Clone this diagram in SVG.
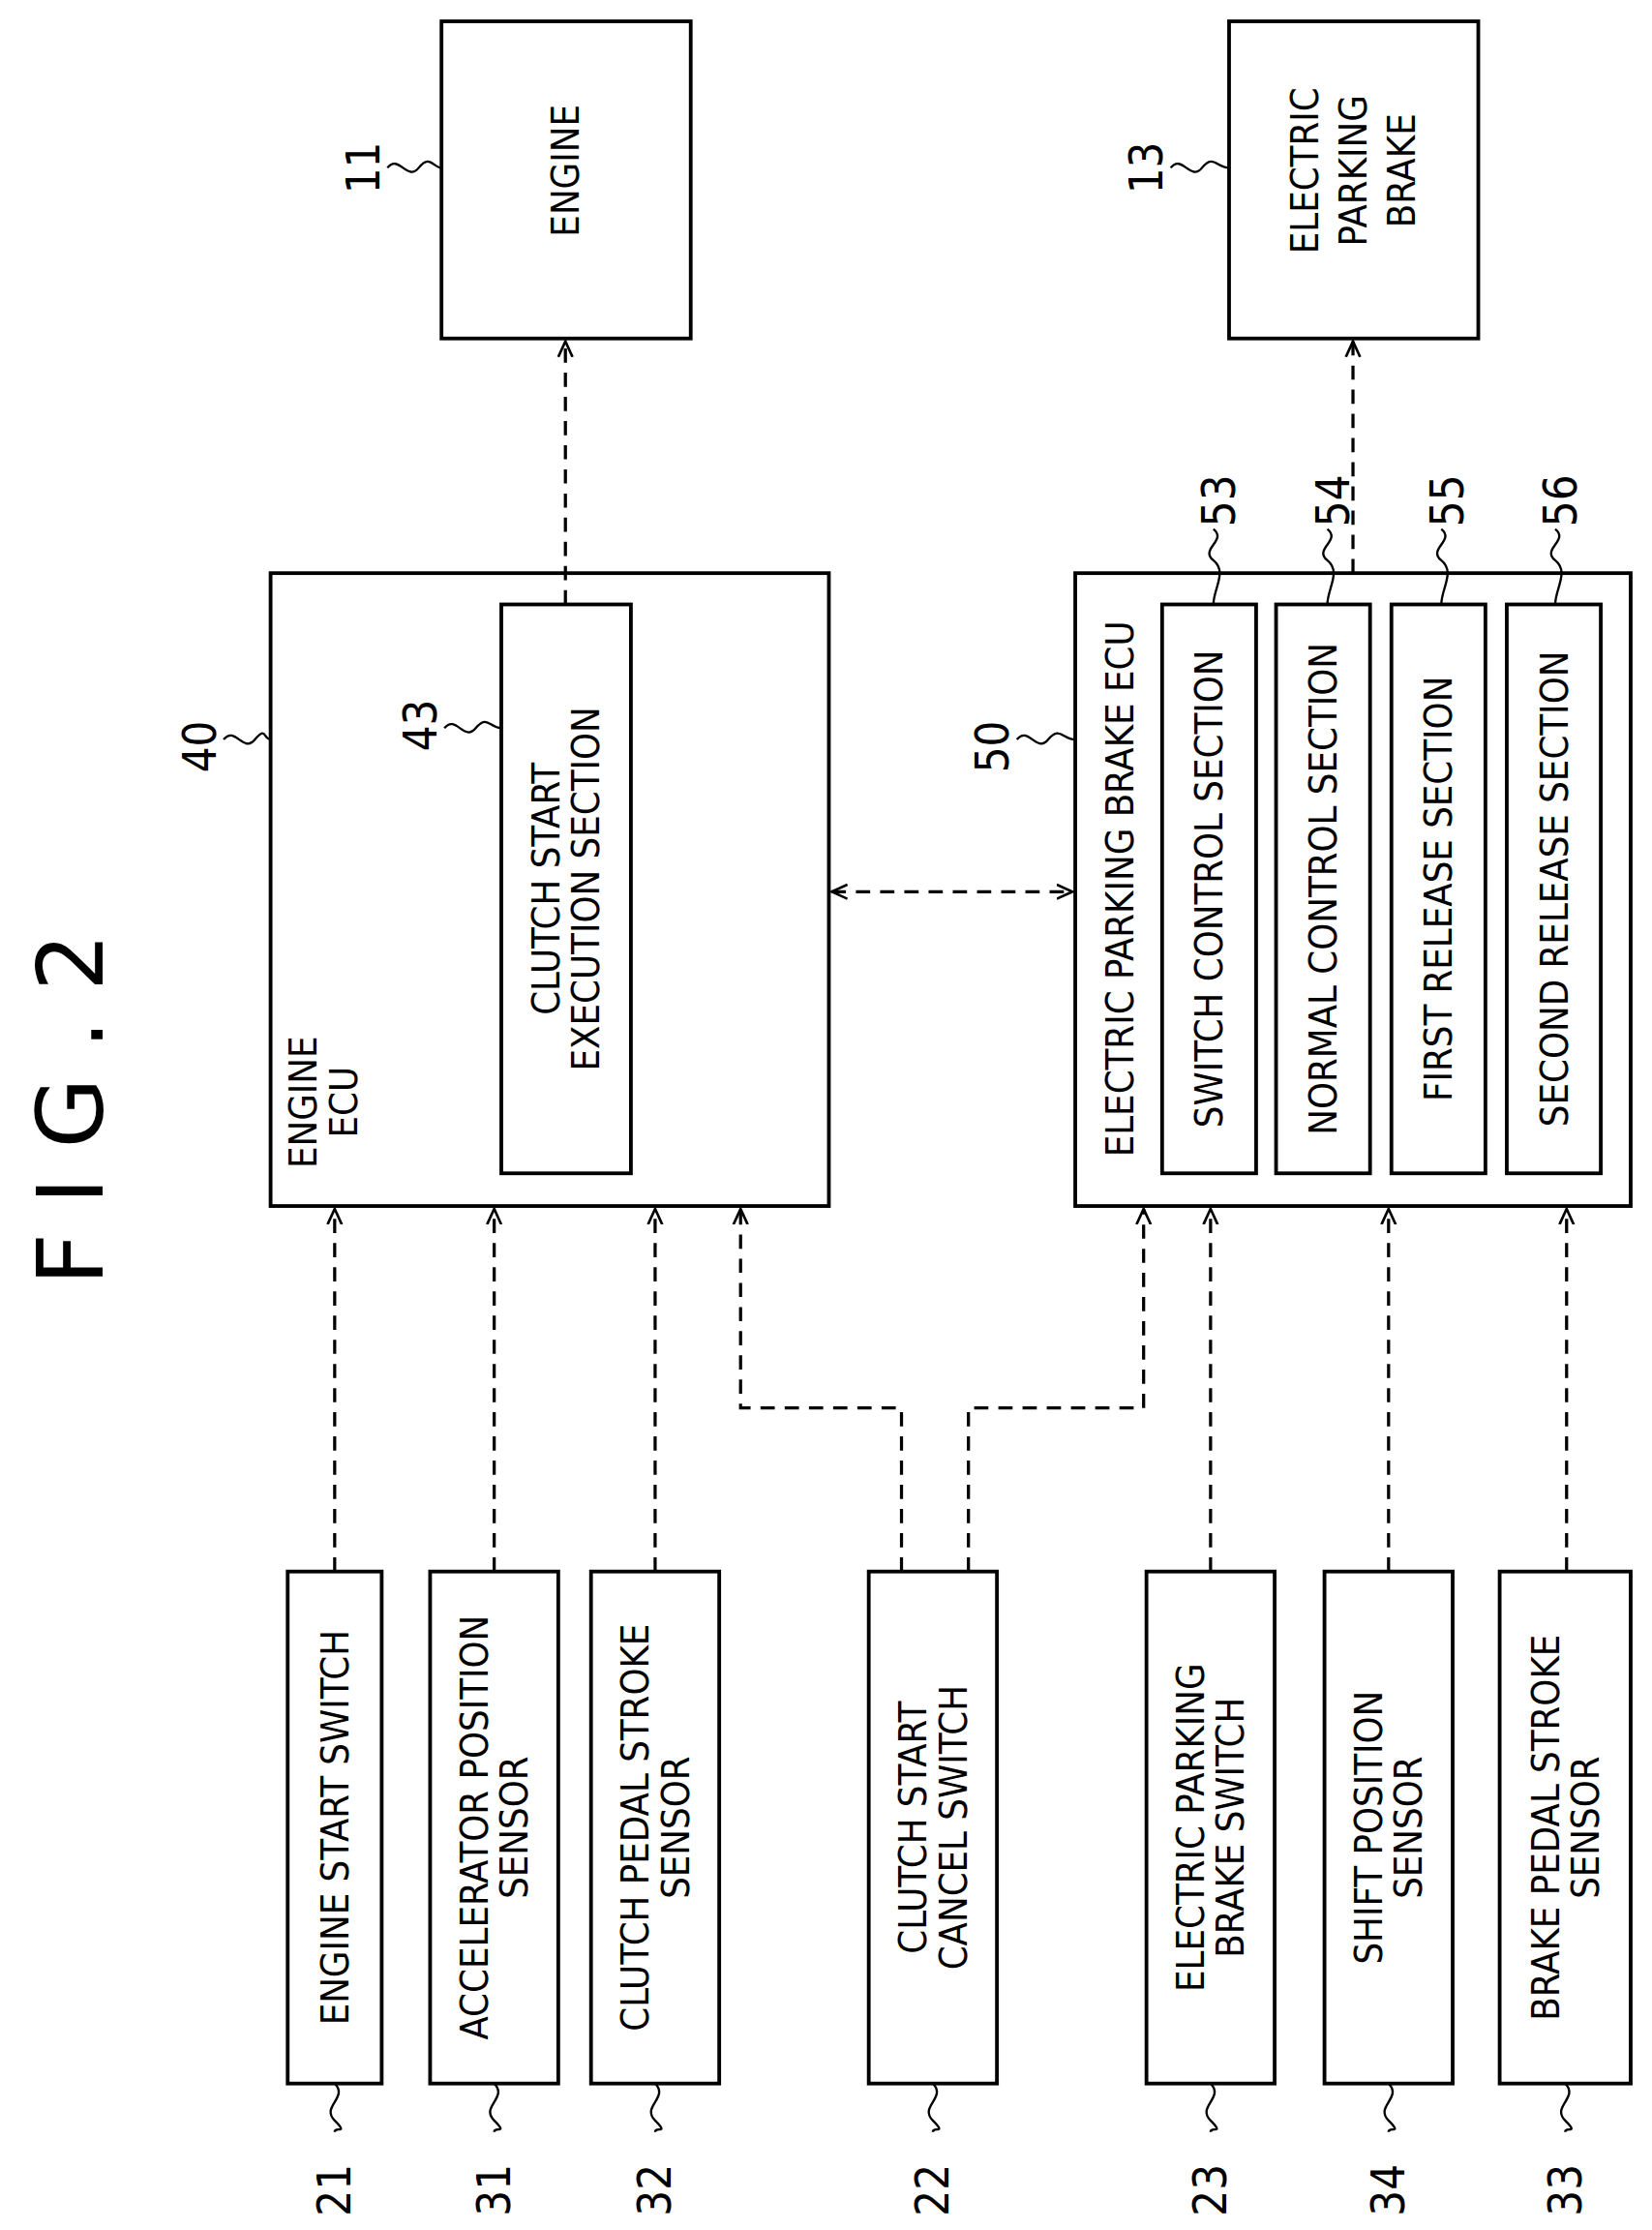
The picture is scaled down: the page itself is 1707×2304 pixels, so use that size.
<svg xmlns="http://www.w3.org/2000/svg" width="1707" height="2304" viewBox="0 0 1707 2304">
<style>
.b{fill:#fff;stroke:#000;stroke-width:2.6}
.t{font-family:"DejaVu Sans Condensed","DejaVu Sans",sans-serif;font-stretch:condensed;font-size:27px;fill:#000;text-anchor:middle;dominant-baseline:central}
.n{font-family:"DejaVu Sans Condensed","DejaVu Sans",sans-serif;font-stretch:condensed;font-size:32px;fill:#000;text-anchor:middle;dominant-baseline:central}
.d{fill:none;stroke:#000;stroke-width:2.2;stroke-dasharray:10 7}
.l{fill:none;stroke:#000;stroke-width:1.6}
</style>
<defs><marker id="a" viewBox="0 0 12 12" refX="11" refY="6" markerWidth="12" markerHeight="12" markerUnits="userSpaceOnUse" orient="auto-start-reverse"><path d="M0,1 L11,6 L0,11" fill="none" stroke="#000" stroke-width="1.8"/></marker></defs>
<rect width="1707" height="2304" fill="#fff"/>
<g transform="scale(1.4716,1.4694)">
<text transform="translate(50,780) rotate(-90)" style="font-family:'DejaVu Sans',sans-serif;font-size:64px;text-anchor:middle;dominant-baseline:central">F I G . 2</text>
<g id="engine"><rect class="b" x="310" y="15" width="175" height="223"/><text class="t" transform="translate(397,120) rotate(-90)">ENGINE</text><text class="n" transform="translate(255,118) rotate(-90)">11</text><path class="l" d="M272,118 c8,-10 14,10 22,0 s10,0 16,0"/></g>
<g id="epb"><rect class="b" x="863" y="15" width="175" height="223"/><text class="t" transform="translate(950,120) rotate(-90)"><tspan x="0" dy="-34">ELECTRIC</tspan><tspan x="0" dy="34">PARKING</tspan><tspan x="0" dy="34">BRAKE</tspan></text><text class="n" transform="translate(805,118) rotate(-90)">13</text><path class="l" d="M822,118 c8,-10 14,10 22,0 s10,0 19,0"/></g>
<g id="ecu40"><rect class="b" x="190" y="403" width="392" height="445"/><text class="t" transform="translate(227,775) rotate(-90)"><tspan x="0" dy="-14">ENGINE</tspan><tspan x="0" dy="28">ECU</tspan></text><text class="n" transform="translate(140,525) rotate(-90)">40</text><path class="l" d="M157,520 c8,-10 14,10 22,0 s6,0 11,0"/>
<rect class="b" x="352" y="425" width="91" height="400"/><text class="t" transform="translate(397,625) rotate(-90)"><tspan x="0" dy="-14">CLUTCH START</tspan><tspan x="0" dy="28">EXECUTION SECTION</tspan></text><text class="n" transform="translate(295,510) rotate(-90)">43</text><path class="l" d="M312,512 c8,-10 14,10 22,0 s10,0 18,0"/></g>
<g id="ecu50"><rect class="b" x="755" y="403" width="390" height="445"/><text class="t" transform="translate(786,625) rotate(-90)">ELECTRIC PARKING BRAKE ECU</text><text class="n" transform="translate(697,525) rotate(-90)">50</text><path class="l" d="M714,520 c8,-10 14,10 22,0 s10,0 19,0"/>
<rect class="b" x="816" y="425" width="66" height="400"/><text class="t" transform="translate(849,625) rotate(-90)">SWITCH CONTROL SECTION</text>
<rect class="b" x="896" y="425" width="66" height="400"/><text class="t" transform="translate(929,625) rotate(-90)">NORMAL CONTROL SECTION</text>
<rect class="b" x="977" y="425" width="66" height="400"/><text class="t" transform="translate(1010,625) rotate(-90)">FIRST RELEASE SECTION</text>
<rect class="b" x="1058" y="425" width="66" height="400"/><text class="t" transform="translate(1091,625) rotate(-90)">SECOND RELEASE SECTION</text>
<text class="n" transform="translate(856,352) rotate(-90)">53</text><path class="l" d="M852,372 c10,8 -10,14 0,22 s0,20 0,31"/>
<text class="n" transform="translate(936,352) rotate(-90)">54</text><path class="l" d="M932,372 c10,8 -10,14 0,22 s0,20 0,31"/>
<text class="n" transform="translate(1016,352) rotate(-90)">55</text><path class="l" d="M1012,372 c10,8 -10,14 0,22 s0,20 0,31"/>
<text class="n" transform="translate(1096,352) rotate(-90)">56</text><path class="l" d="M1092,372 c10,8 -10,14 0,22 s0,20 0,31"/></g>
<g id="s21"><rect class="b" x="202" y="1105" width="66" height="360"/><text class="t" transform="translate(235,1285) rotate(-90)">ENGINE START SWITCH</text></g>
<g id="s31"><rect class="b" x="302" y="1105" width="90" height="360"/><text class="t" transform="translate(347,1285) rotate(-90)"><tspan x="0" dy="-14">ACCELERATOR POSITION</tspan><tspan x="0" dy="28">SENSOR</tspan></text></g>
<g id="s32"><rect class="b" x="415" y="1105" width="90" height="360"/><text class="t" transform="translate(460,1285) rotate(-90)"><tspan x="0" dy="-14">CLUTCH PEDAL STROKE</tspan><tspan x="0" dy="28">SENSOR</tspan></text></g>
<g id="s22"><rect class="b" x="610" y="1105" width="90" height="360"/><text class="t" transform="translate(655,1285) rotate(-90)"><tspan x="0" dy="-14">CLUTCH START</tspan><tspan x="0" dy="28">CANCEL SWITCH</tspan></text></g>
<g id="s23"><rect class="b" x="805" y="1105" width="90" height="360"/><text class="t" transform="translate(850,1285) rotate(-90)"><tspan x="0" dy="-14">ELECTRIC PARKING</tspan><tspan x="0" dy="28">BRAKE SWITCH</tspan></text></g>
<g id="s34"><rect class="b" x="930" y="1105" width="90" height="360"/><text class="t" transform="translate(975,1285) rotate(-90)"><tspan x="0" dy="-14">SHIFT POSITION</tspan><tspan x="0" dy="28">SENSOR</tspan></text></g>
<g id="s33"><rect class="b" x="1053" y="1105" width="92" height="360"/><text class="t" transform="translate(1099,1285) rotate(-90)"><tspan x="0" dy="-14">BRAKE PEDAL STROKE</tspan><tspan x="0" dy="28">SENSOR</tspan></text></g>
<g id="labels">
<text class="n" transform="translate(235,1540) rotate(-90)">21</text><path class="l" d="M235,1465 c10,10 -10,16 0,26 s0,4 0,8"/>
<text class="n" transform="translate(347,1540) rotate(-90)">31</text><path class="l" d="M347,1465 c10,10 -10,16 0,26 s0,4 0,8"/>
<text class="n" transform="translate(460,1540) rotate(-90)">32</text><path class="l" d="M460,1465 c10,10 -10,16 0,26 s0,4 0,8"/>
<text class="n" transform="translate(655,1540) rotate(-90)">22</text><path class="l" d="M655,1465 c10,10 -10,16 0,26 s0,4 0,8"/>
<text class="n" transform="translate(850,1540) rotate(-90)">23</text><path class="l" d="M850,1465 c10,10 -10,16 0,26 s0,4 0,8"/>
<text class="n" transform="translate(975,1540) rotate(-90)">34</text><path class="l" d="M975,1465 c10,10 -10,16 0,26 s0,4 0,8"/>
<text class="n" transform="translate(1099,1540) rotate(-90)">33</text><path class="l" d="M1099,1465 c10,10 -10,16 0,26 s0,4 0,8"/>
</g>
<g id="connectors">
<path class="d" d="M397,425 V240" marker-end="url(#a)"/>
<path class="d" d="M950,403 V240" marker-end="url(#a)"/>
<path class="d" d="M584,627 H753" marker-start="url(#a)" marker-end="url(#a)"/>
<path class="d" d="M235,1105 V850" marker-end="url(#a)"/>
<path class="d" d="M347,1105 V850" marker-end="url(#a)"/>
<path class="d" d="M460,1105 V850" marker-end="url(#a)"/>
<path class="d" d="M633,1105 V990 H520 V850" marker-end="url(#a)"/>
<path class="d" d="M680,1105 V990 H803 V850" marker-end="url(#a)"/>
<path class="d" d="M850,1105 V850" marker-end="url(#a)"/>
<path class="d" d="M975,1105 V850" marker-end="url(#a)"/>
<path class="d" d="M1100,1105 V850" marker-end="url(#a)"/>
</g>
</g>
</svg>
